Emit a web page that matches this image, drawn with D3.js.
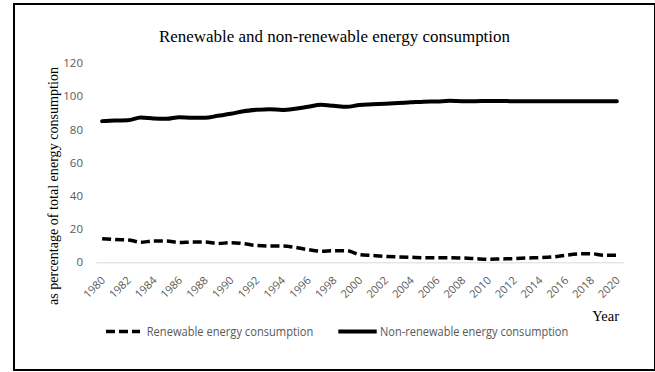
<!DOCTYPE html>
<html>
<head>
<meta charset="utf-8">
<script src="https://cdn.jsdelivr.net/npm/d3@7/dist/d3.min.js"></script>
<style>
  html, body { margin: 0; padding: 0; background: #fff; }
  svg { display: block; }
</style>
</head>
<body>
<svg id="chart" width="655" height="372"></svg>
<script>
// Energy consumption shares, 1980–2020 (% of total energy consumption)
const years = d3.range(1980, 2021);
const renewable = [
  14.2, 13.7, 13.5, 12.1, 12.8, 12.8, 11.9, 12.2, 12.2, 11.3,
  11.8, 11.2, 10.1, 9.8, 9.8, 9.0, 7.6, 6.7, 7.0, 7.0,
  4.6, 4.1, 3.6, 3.2, 3.0, 2.8, 2.8, 2.8, 2.6, 2.2,
  1.8, 2.0, 2.2, 2.6, 2.8, 3.2, 4.2, 5.0, 5.2, 4.3, 4.3
];
const nonRenewable = [
  85.0, 85.4, 85.5, 87.2, 86.6, 86.4, 87.4, 87.0, 87.0, 88.2,
  89.4, 91.0, 91.8, 92.2, 91.7, 92.4, 93.6, 94.8, 94.2, 93.6,
  94.7, 95.1, 95.5, 95.9, 96.3, 96.7, 96.8, 97.2, 97.0, 97.0,
  97.1, 97.1, 97.0, 97.0, 97.0, 97.0, 97.0, 97.0, 97.0, 97.0, 97.0
];
const yTicks = [0, 20, 40, 60, 80, 100, 120];
const xTickYears = years.filter(y => y % 2 === 0);
const seriesNames = ["Renewable energy consumption", "Non-renewable energy consumption"];

const svg = d3.select("#chart");
const serif = "'Liberation Serif', 'Times New Roman', serif";
const sans = "'Open Sans', 'Noto Sans', sans-serif";
const labelGrey = "#595959";

// outer frame
svg.append("rect")
  .attr("x", 14).attr("y", 4)
  .attr("width", 641).attr("height", 366)
  .attr("fill", "none").attr("stroke", "#000").attr("stroke-width", 2);

const x = d3.scaleBand().domain(years).range([95.7, 623.3]).paddingInner(0).paddingOuter(0);
const cx = yr => x(yr) + x.bandwidth() / 2;
const y = d3.scaleLinear().domain([0, 120]).range([262.3, 63]);

// title
svg.append("text")
  .attr("x", 334.5).attr("y", 42)
  .attr("text-anchor", "middle")
  .attr("font-family", serif).attr("font-size", 16.5)
  .attr("textLength", 351).attr("lengthAdjust", "spacingAndGlyphs")
  .text("Renewable and non-renewable energy consumption");

// y axis labels (no axis line, no ticks)
const yAxis = d3.axisLeft(y).tickValues(yTicks).tickSize(0).tickPadding(0);
const gy = svg.append("g").attr("transform", "translate(83,0)").call(yAxis);
gy.select(".domain").remove();
gy.selectAll("text")
  .attr("font-family", sans).attr("font-size", 11.5).attr("fill", labelGrey);

// baseline at zero
const xAxis = d3.axisBottom(x).tickValues(xTickYears).tickSize(0).tickPadding(0);
const gx = svg.append("g").attr("transform", `translate(0,${y(0)})`).call(xAxis);
gx.select(".domain").attr("stroke", "#d9d9d9").attr("stroke-width", 1);
gx.selectAll("text")
  .attr("font-family", sans).attr("font-size", 11).attr("fill", labelGrey)
  .attr("text-anchor", "end")
  .attr("dy", "0.35em")
  .attr("transform", "translate(1,16) rotate(-45)");

// y axis title
svg.append("text")
  .attr("transform", "translate(58,186) rotate(-90)")
  .attr("text-anchor", "middle")
  .attr("font-family", serif).attr("font-size", 15)
  .attr("textLength", 238).attr("lengthAdjust", "spacingAndGlyphs")
  .text("as percentage of total energy consumption");

// x axis title
svg.append("text")
  .attr("x", 619).attr("y", 321)
  .attr("text-anchor", "end")
  .attr("font-family", serif).attr("font-size", 14.5)
  .text("Year");

const line = d3.line()
  .x((d, i) => cx(years[i]))
  .y(d => y(d))
  .curve(d3.curveMonotoneX);

svg.append("path")
  .datum(nonRenewable)
  .attr("d", line)
  .attr("fill", "none").attr("stroke", "#000").attr("stroke-width", 4)
  .attr("stroke-linecap", "round").attr("stroke-linejoin", "round");

svg.append("path")
  .datum(renewable)
  .attr("d", line)
  .attr("fill", "none").attr("stroke", "#000").attr("stroke-width", 3.5)
  .attr("stroke-dasharray", "9,4")
  .attr("stroke-linejoin", "round");

// legend
const legendY = 331.5;
const legend = [
  { name: seriesNames[0], x0: 106, x1: 140, tx: 146.7, tw: 166.6, dash: "9,4", w: 3.5 },
  { name: seriesNames[1], x0: 338.3, x1: 376.7, tx: 380, tw: 188.3, dash: null, w: 4 }
];
const lg = svg.append("g").selectAll("g").data(legend).join("g");
lg.append("line")
  .attr("x1", d => d.x0).attr("x2", d => d.x1)
  .attr("y1", legendY).attr("y2", legendY)
  .attr("stroke", "#000").attr("stroke-width", d => d.w)
  .attr("stroke-dasharray", d => d.dash);
lg.append("text")
  .attr("x", d => d.tx).attr("y", legendY)
  .attr("dy", "0.35em")
  .attr("font-family", sans).attr("font-size", 12.5).attr("fill", labelGrey)
  .attr("textLength", d => d.tw).attr("lengthAdjust", "spacingAndGlyphs")
  .text(d => d.name);
</script>
</body>
</html>
